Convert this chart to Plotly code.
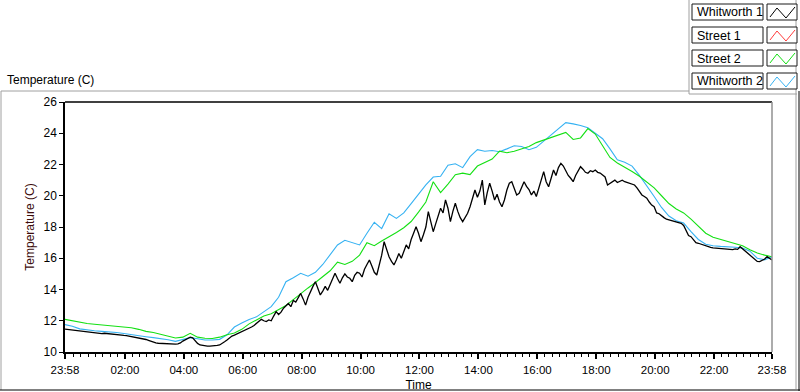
import plotly.graph_objects as go
import pandas as pd

# ---------------- data ----------------
start_time = "2000-01-01 23:58"
span_hours = 24

series_names = ["Whitworth 1", "Street 1", "Street 2", "Whitworth 2"]
series_colors = ["#000000", "#ff3c3c", "#14e014", "#36b2f2"]

# Whitworth 1 : one reading every 5 minutes from 23:58
whitworth1_step_min = 5
whitworth1 = [
    11.47, 11.45, 11.42, 11.40, 11.38, 11.35, 11.32, 11.30, 11.30, 11.28, 11.27, 11.25,
    11.22, 11.20, 11.20, 11.18, 11.20, 11.18, 11.15, 11.12, 11.12, 11.10, 11.10, 11.08,
    11.06, 11.05, 11.02, 11.00, 10.98, 10.95, 10.90, 10.87, 10.85, 10.80, 10.75, 10.68,
    10.62, 10.58, 10.56, 10.55, 10.54, 10.52, 10.50, 10.50, 10.49, 10.50, 10.52, 10.58,
    10.70, 10.80, 10.90, 10.95, 10.90, 10.72, 10.55, 10.45, 10.42, 10.40, 10.38, 10.38,
    10.38, 10.40, 10.42, 10.45, 10.58, 10.66, 10.77, 10.90, 11.02, 11.08, 11.15, 11.25,
    11.30, 11.38, 11.45, 11.50, 11.60, 11.70, 11.85, 12.00, 12.09, 12.00, 11.95, 12.05,
    12.00, 12.30, 12.58, 12.40, 12.55, 12.80, 12.95, 13.10, 12.90, 13.30, 13.20, 13.45,
    13.75, 13.40, 13.00, 13.50, 13.90, 14.20, 14.50, 14.00, 13.65, 13.90, 14.20, 13.95,
    14.30, 14.60, 15.04, 14.70, 14.40, 14.75, 15.00, 14.80, 14.72, 14.50, 14.90, 15.10,
    15.04, 14.80, 15.30, 15.60, 15.89, 15.50, 15.10, 14.93, 15.50, 16.20, 17.06, 16.50,
    16.10, 15.80, 15.57, 15.90, 16.30, 16.00, 16.50, 16.85, 16.60, 17.20, 17.60, 18.02,
    17.60, 17.06, 17.50, 18.00, 18.98, 18.40, 17.70, 18.20, 18.70, 19.20, 18.90, 19.73,
    19.20, 18.34, 19.00, 19.52, 19.00, 18.60, 18.34, 18.60, 18.88, 19.30, 19.80, 20.37,
    19.90, 20.30, 21.00, 19.41, 20.20, 20.80, 20.30, 19.73, 20.10, 19.60, 19.30, 19.73,
    20.37, 20.80, 20.90, 20.50, 20.05, 20.16, 20.50, 20.90, 20.60, 20.40, 20.05, 20.30,
    19.95, 20.50, 20.90, 21.54, 20.90, 20.58, 21.10, 21.65, 21.30, 21.80, 22.08, 21.90,
    21.60, 21.30, 21.12, 20.90, 21.30, 21.60, 21.86, 21.70, 21.50, 21.44, 21.60, 21.54,
    21.65, 21.50, 21.45, 21.33, 21.20, 20.69, 20.80, 20.90, 21.00, 20.85, 20.95, 21.00,
    20.90, 20.85, 20.80, 20.70, 20.69, 20.50, 20.30, 20.05, 19.95, 19.84, 19.60, 19.40,
    19.30, 18.90, 18.85, 18.70, 18.60, 18.50, 18.45, 18.40, 18.35, 18.30, 18.26, 18.24,
    18.10, 17.80, 17.45, 17.38, 17.20, 17.00, 16.96, 16.90, 16.85, 16.80, 16.75, 16.70,
    16.67, 16.65, 16.63, 16.62, 16.60, 16.60, 16.58, 16.57, 16.55, 16.60, 16.57, 16.74,
    16.60, 16.45, 16.32, 16.20, 16.05, 15.90, 15.80, 15.78, 15.85, 15.95, 16.10, 16.00,
    15.89,
]

# Street 1 : no readings visible on the graph
street1_step_min = 15
street1 = []

# Street 2 : one reading every 15 minutes from 23:58
street2_step_min = 15
street2 = [
    12.09, 12.00, 11.88, 11.82,
    11.78, 11.74, 11.70, 11.66,
    11.60, 11.55, 11.45, 11.32,
    11.25, 11.12, 11.02, 10.90,
    10.95, 11.20, 10.95, 10.88,
    10.86, 10.95, 11.10, 11.22,
    11.45, 11.80, 12.05, 12.30,
    12.45, 12.70, 12.98, 13.35,
    13.75, 14.10, 14.45, 14.80,
    15.20, 15.75, 15.60, 15.80,
    16.20, 17.00, 16.80, 17.10,
    17.35, 17.65, 17.95, 18.35,
    18.95, 19.60, 20.90, 20.20,
    20.75, 21.35, 21.45, 21.35,
    21.90, 22.15, 22.35, 22.85,
    22.75, 22.85, 23.00, 23.15,
    23.40, 23.55, 23.75, 23.85,
    24.05, 23.60, 23.70, 24.30,
    23.95, 23.20, 22.45, 22.10,
    21.85, 21.55, 21.25, 20.90,
    20.50, 20.00, 19.50, 19.15,
    18.90, 18.50, 18.05, 17.60,
    17.35, 17.20, 17.05, 16.95,
    16.80, 16.55, 16.33, 16.20,
    16.10,
]

# Whitworth 2 : one reading every 15 minutes from 23:58
whitworth2_step_min = 15
whitworth2 = [
    11.75, 11.65, 11.48, 11.40,
    11.36, 11.32, 11.30, 11.25,
    11.18, 11.10, 11.05, 10.98,
    10.92, 10.87, 10.78, 10.68,
    10.78, 10.92, 10.85, 10.77,
    10.77, 10.81, 11.10, 11.60,
    11.85, 12.08, 12.25, 12.55,
    12.90, 13.50, 14.50, 14.75,
    15.04, 14.85, 15.10, 15.60,
    16.20, 16.85, 17.15, 16.98,
    16.85, 17.60, 18.30, 17.90,
    18.85, 18.55, 18.90, 19.50,
    20.10, 20.70, 21.20, 21.25,
    21.95, 22.05, 21.80, 22.50,
    22.95, 22.85, 22.90, 22.82,
    23.00, 23.20, 23.15, 22.95,
    23.10, 23.50, 23.90, 24.30,
    24.68, 24.60, 24.50, 24.35,
    24.00, 23.65, 23.00, 22.30,
    22.15, 21.90, 21.30, 20.65,
    19.95, 19.25, 18.70, 18.40,
    18.25, 17.70, 17.20, 16.90,
    16.80, 16.76, 16.74, 16.70,
    16.65, 16.45, 16.00, 15.90,
    16.10,
]

x_tick_labels = ["23:58", "02:00", "04:00", "06:00", "08:00", "10:00", "12:00",
                 "14:00", "16:00", "18:00", "20:00", "22:00", "23:58"]
y_tick_values = [10, 12, 14, 16, 18, 20, 22, 24, 26]
y_range = [10, 26]
minor_tick_minutes = 15

graph_label = "Temperature (C)"
y_title = "Temperature (C)"
x_title = "Time"

# ---------------- helpers ----------------
t0 = pd.Timestamp(start_time)
t_end = t0 + pd.Timedelta(hours=span_hours)


def times_for(values, step):
    return [t0 + pd.Timedelta(minutes=step * i) for i in range(len(values))]


tick_vals = []
for i, lab in enumerate(x_tick_labels):
    if i == 0:
        tick_vals.append(t0)
    elif i == len(x_tick_labels) - 1:
        tick_vals.append(t_end)
    else:
        tick_vals.append(pd.Timestamp((t0 + pd.Timedelta(days=1)).strftime("%Y-%m-%d") + " " + lab))

W, H = 800, 392
L, R, T, B = 65, 772, 102, 352


def px(x):
    return (x - L) / (R - L)


def py(y):
    return (B - y) / (B - T)


FONT = "Liberation Sans, Arial, sans-serif"

fig = go.Figure()
data_sets = [
    (whitworth1, whitworth1_step_min, 1.3),
    (street1, street1_step_min, 1.0),
    (street2, street2_step_min, 1.1),
    (whitworth2, whitworth2_step_min, 1.1),
]
# draw order: blue, green, red under black
for idx in [3, 2, 1, 0]:
    vals, step, lw = data_sets[idx]
    fig.add_trace(go.Scatter(
        x=times_for(vals, step), y=vals, mode="lines", name=series_names[idx],
        line=dict(color=series_colors[idx], width=lw), showlegend=False,
    ))

shapes = []
# outer frame
shapes.append(dict(type="line", xref="paper", yref="paper", x0=px(1), x1=px(1), y0=py(91), y1=py(390),
                   line=dict(color="#a0a0a0", width=1)))
shapes.append(dict(type="line", xref="paper", yref="paper", x0=px(1), x1=px(689), y0=py(91), y1=py(91),
                   line=dict(color="#a0a0a0", width=1)))
shapes.append(dict(type="line", xref="paper", yref="paper", x0=px(689), x1=px(689), y0=py(0), y1=py(94),
                   line=dict(color="#a0a0a0", width=1)))
shapes.append(dict(type="line", xref="paper", yref="paper", x0=px(689), x1=px(797), y0=py(94), y1=py(94),
                   line=dict(color="#a0a0a0", width=1)))
shapes.append(dict(type="line", xref="paper", yref="paper", x0=px(796), x1=px(796), y0=py(0), y1=py(389),
                   line=dict(color="#a0a0a0", width=1)))
shapes.append(dict(type="line", xref="paper", yref="paper", x0=px(799), x1=px(799), y0=py(91), y1=py(391),
                   line=dict(color="#000000", width=1)))
shapes.append(dict(type="line", xref="paper", yref="paper", x0=px(0), x1=px(800), y0=py(390), y1=py(390),
                   line=dict(color="#000000", width=1)))
# plot border: top black, right grey
shapes.append(dict(type="line", xref="paper", yref="paper", x0=0, x1=1, y0=1, y1=1,
                   line=dict(color="#000000", width=1.5)))
shapes.append(dict(type="line", xref="paper", yref="paper", x0=1, x1=1, y0=0, y1=1,
                   line=dict(color="#909090", width=1.5)))

annotations = []
# legend boxes
box_tops = [4, 27, 50, 73]
box_h = 16
for i, name in enumerate(series_names):
    top = box_tops[i]
    bot = top + box_h
    shapes.append(dict(type="rect", xref="paper", yref="paper", x0=px(692), x1=px(763), y0=py(bot), y1=py(top),
                       line=dict(color="#1a1a1a", width=1), fillcolor="white"))
    shapes.append(dict(type="rect", xref="paper", yref="paper", x0=px(767), x1=px(797), y0=py(bot), y1=py(top),
                       line=dict(color="#1a1a1a", width=1), fillcolor="white"))
    pts = [(770, bot - 3), (777, top + 4), (786, bot - 2), (795, top + 3)]
    path = "M " + " L ".join(f"{px(a):.5f},{py(b):.5f}" for a, b in pts)
    shapes.append(dict(type="path", xref="paper", yref="paper", path=path,
                       line=dict(color=series_colors[i], width=1)))
    annotations.append(dict(xref="paper", yref="paper", x=px(695), y=py(top + box_h / 2 + 0.5), text=name,
                            showarrow=False, xanchor="left", yanchor="middle",
                            font=dict(family=FONT, size=12.5, color="#000000")))

annotations.append(dict(xref="paper", yref="paper", x=px(5), y=py(80), text=graph_label, showarrow=False,
                        xanchor="left", yanchor="middle", font=dict(family=FONT, size=12, color="#000000")))

fig.update_layout(
    width=W, height=H, autosize=False,
    margin=dict(l=L, r=W - R, t=T, b=H - B, pad=0, autoexpand=False),
    paper_bgcolor="white", plot_bgcolor="white",
    shapes=shapes, annotations=annotations,
    showlegend=False,
    font=dict(family=FONT, size=12, color="#000000"),
)

fig.update_xaxes(
    type="date", range=[t0, t_end], tickmode="array", tickvals=tick_vals, ticktext=x_tick_labels,
    automargin=False,
    showgrid=False, zeroline=False, showline=True, linecolor="#000000", linewidth=1.5,
    ticks="outside", ticklen=5, tickwidth=1.5, tickcolor="#000000", ticklabelstandoff=1,
    tickfont=dict(family=FONT, size=11.5, color="#000000"),
    minor=dict(tickmode="linear", tick0="2000-01-02 00:00", dtick=minor_tick_minutes * 60 * 1000,
               ticks="outside", ticklen=3, tickwidth=1, tickcolor="#000000", showgrid=False),
    title=dict(text=x_title, font=dict(family=FONT, size=12, color="#000000"), standoff=8),
)
fig.update_yaxes(
    range=y_range, tickmode="array", tickvals=y_tick_values,
    automargin=False,
    showgrid=False, zeroline=False, showline=True, linecolor="#000000", linewidth=1.5,
    ticks="outside", ticklen=4, tickwidth=1, tickcolor="#000000",
    tickfont=dict(family=FONT, size=12, color="#000000"),
    title=dict(text=y_title, font=dict(family=FONT, size=12, color="#3c0c0c"), standoff=6),
)

fig.write_html("out.html", config={"displayModeBar": False},
               post_script="document.body.style.margin='0';document.body.style.overflow='hidden';")
